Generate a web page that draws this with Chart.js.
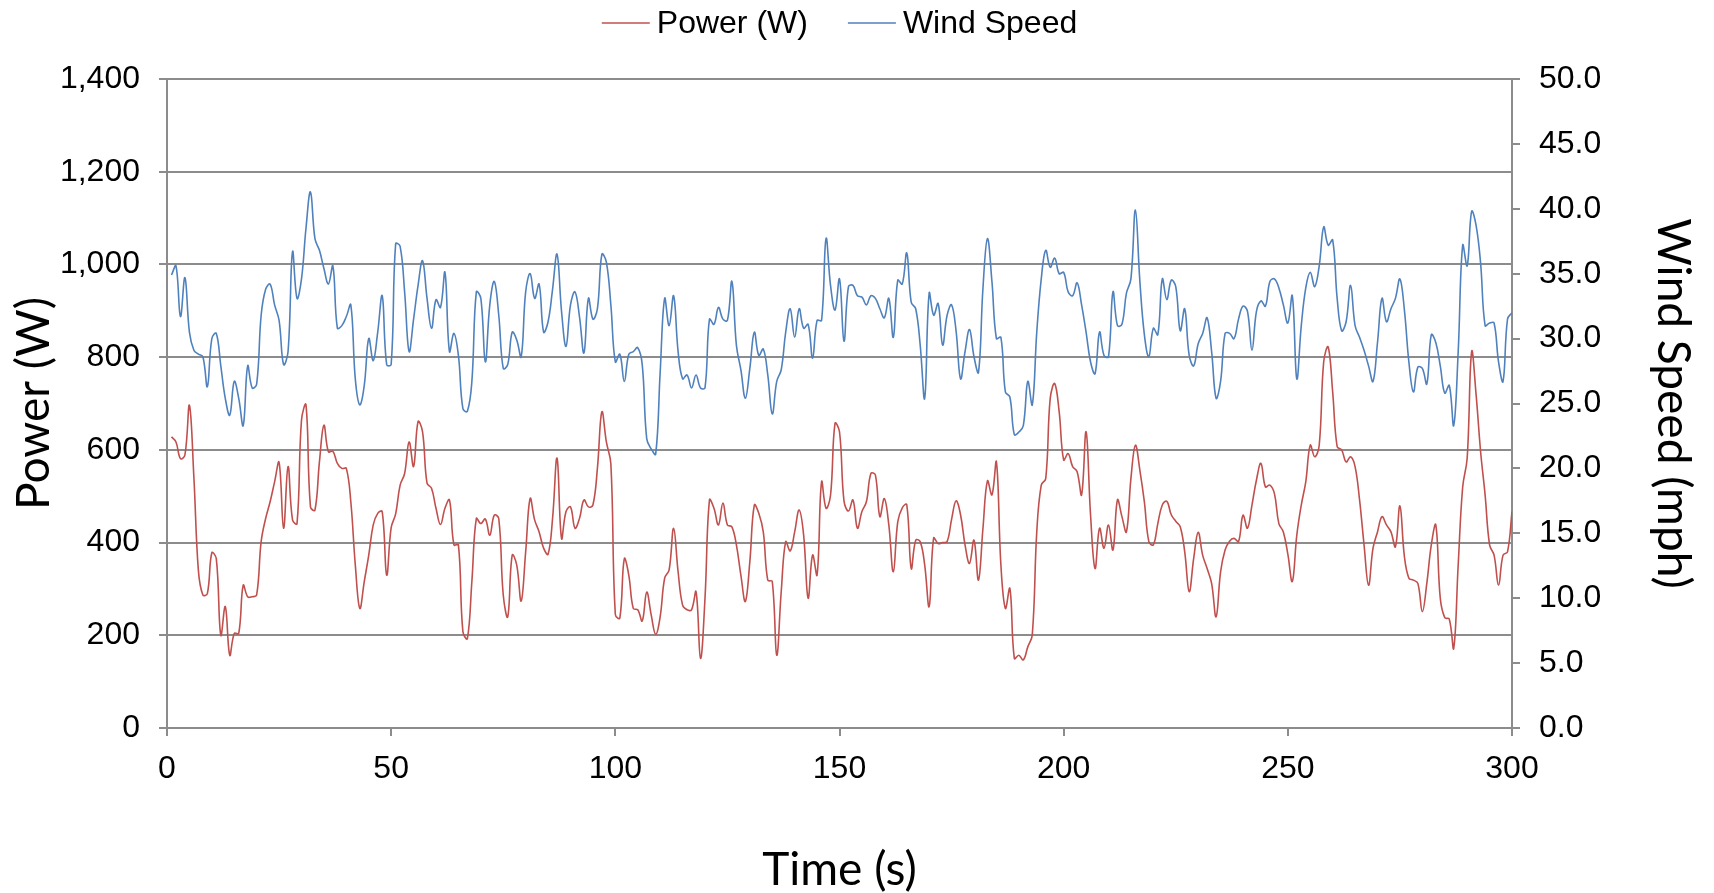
<!DOCTYPE html>
<html>
<head>
<meta charset="utf-8">
<title>Power and Wind Speed</title>
<script src="https://cdn.jsdelivr.net/npm/chart.js@4.4.1/dist/chart.umd.min.js"></script>
<style>
  html, body { margin: 0; padding: 0; background: #ffffff; }
  #chart { display: block; }
</style>
</head>
<body>
<canvas id="chart" width="1714" height="893"></canvas>
<script>
// Axis ticks
const timeTicks = [0, 50, 100, 150, 200, 250, 300];
const powerTicks = [0, 200, 400, 600, 800, 1000, 1200, 1400];
const windTicks = [0, 5, 10, 15, 20, 25, 30, 35, 40, 45, 50];

// One reading per second, t = 1 ... 300 s
const powerW = [
  628, 617, 581, 589, 696, 540, 340, 287, 290, 378,
  365, 200, 262, 157, 204, 204, 308, 283, 283, 287,
  402, 452, 488, 531, 573, 431, 564, 449, 441, 664,
  697, 477, 470, 574, 653, 596, 597, 571, 560, 560,
  488, 352, 258, 316, 373, 438, 463, 467, 330, 432,
  462, 524, 549, 617, 564, 661, 639, 528, 517, 474,
  439, 474, 492, 395, 395, 208, 193, 316, 452, 441,
  451, 416, 459, 452, 287, 240, 373, 352, 274, 380,
  495, 449, 423, 388, 375, 452, 582, 409, 467, 477,
  431, 452, 492, 477, 481, 560, 682, 617, 570, 245,
  237, 365, 330, 258, 255, 231, 293, 244, 202, 240,
  323, 341, 431, 337, 265, 255, 255, 294, 150, 280,
  492, 474, 438, 485, 438, 434, 395, 330, 273, 359,
  481, 463, 423, 319, 316, 157, 294, 402, 382, 423,
  470, 416, 280, 373, 330, 531, 474, 502, 657, 639,
  490, 468, 492, 431, 467, 488, 549, 546, 456, 495,
  438, 337, 445, 475, 482, 344, 405, 402, 352, 262,
  410, 398, 400, 402, 450, 490, 460, 395, 355, 405,
  319, 431, 533, 503, 574, 352, 258, 301, 150, 157,
  147, 175, 201, 423, 524, 538, 711, 743, 682, 578,
  592, 564, 553, 503, 639, 459, 344, 431, 388, 438,
  384, 492, 456, 423, 538, 610, 556, 488, 402, 395,
  441, 481, 489, 460, 446, 434, 380, 294, 366, 422,
  373, 344, 312, 240, 337, 384, 403, 409, 402, 459,
  431, 481, 535, 571, 520, 524, 506, 441, 423, 375,
  316, 416, 481, 531, 610, 585, 610, 790, 822, 725,
  607, 600, 574, 585, 564, 492, 395, 308, 388, 423,
  456, 438, 423, 391, 479, 370, 323, 319, 312, 251,
  312, 395, 438, 280, 238, 235, 172, 352, 520, 582,
  812, 718, 596, 503, 395, 373, 308, 373, 380, 467
];

const windMph = [
  34.9, 35.6, 31.7, 34.7, 30.5, 29.1, 28.8, 28.6, 26.3, 30.0,
  30.4, 27.9, 25.4, 24.1, 26.7, 25.4, 23.3, 27.9, 26.2, 26.5,
  31.8, 33.8, 34.2, 32.6, 31.4, 28.0, 29.0, 36.7, 33.1, 34.6,
  38.5, 41.3, 37.7, 36.8, 35.4, 34.2, 35.6, 30.8, 31.0, 31.7,
  32.6, 26.9, 24.9, 26.4, 30.0, 28.3, 30.5, 33.3, 28.0, 28.0,
  37.3, 37.1, 33.6, 29.0, 31.5, 34.1, 36.0, 33.1, 30.8, 33.0,
  32.4, 35.1, 29.0, 30.4, 28.7, 24.6, 24.4, 26.7, 33.6, 33.1,
  28.2, 32.6, 34.4, 31.8, 27.7, 28.0, 30.5, 29.9, 28.6, 33.6,
  35.0, 33.1, 34.2, 30.5, 31.3, 33.8, 36.5, 32.1, 29.4, 32.6,
  33.6, 31.7, 28.9, 33.1, 31.5, 32.3, 36.5, 35.9, 32.6, 28.2,
  28.8, 26.7, 28.8, 29.0, 29.3, 28.0, 22.3, 21.5, 21.1, 27.4,
  33.1, 31.0, 33.3, 29.0, 26.9, 27.2, 26.2, 27.2, 26.2, 26.2,
  31.5, 31.1, 32.4, 31.5, 31.4, 34.4, 29.5, 27.6, 25.4, 27.7,
  30.5, 28.7, 29.2, 27.2, 24.2, 26.7, 27.6, 30.5, 32.3, 30.1,
  32.3, 30.8, 31.1, 28.5, 31.4, 31.4, 37.7, 34.1, 32.2, 34.6,
  29.8, 34.0, 34.1, 33.3, 33.2, 32.6, 33.3, 33.1, 32.3, 31.6,
  33.1, 30.1, 34.5, 34.2, 36.6, 32.8, 32.3, 29.5, 25.4, 33.5,
  31.8, 32.7, 29.5, 31.8, 32.6, 30.6, 26.9, 29.0, 30.7, 28.6,
  27.4, 33.9, 37.7, 34.4, 30.0, 30.1, 25.9, 25.5, 22.6, 22.8,
  23.3, 26.7, 24.9, 30.5, 34.6, 36.8, 35.5, 36.2, 35.0, 35.1,
  33.6, 33.3, 34.3, 32.6, 30.5, 28.2, 27.3, 30.5, 28.7, 28.6,
  33.6, 31.0, 31.1, 33.5, 34.6, 39.9, 34.4, 30.3, 28.6, 30.8,
  30.3, 34.6, 33.0, 34.5, 34.0, 30.6, 32.3, 28.7, 27.9, 29.6,
  30.4, 31.6, 29.0, 25.4, 26.7, 30.4, 30.4, 30.0, 31.5, 32.5,
  32.1, 29.1, 32.1, 32.9, 32.5, 34.4, 34.6, 33.9, 32.6, 31.2,
  33.3, 26.9, 31.0, 33.9, 35.1, 34.0, 35.6, 38.6, 37.2, 37.6,
  33.1, 30.6, 31.3, 34.1, 31.0, 30.1, 29.1, 27.9, 26.7, 29.7,
  33.1, 31.3, 32.3, 33.1, 34.6, 32.2, 28.2, 25.9, 27.8, 27.7,
  26.5, 30.3, 29.7, 27.9, 25.8, 26.4, 23.3, 29.0, 37.2, 35.6,
  39.8, 38.7, 35.8, 31.0, 31.2, 31.2, 28.2, 26.7, 31.5, 32.0
];

// Styling
const GRID = '#8c8c8c';
const POWER_RED = '#c0504d';
const WIND_BLUE = '#4f81bd';
const tickFont = { family: '"Liberation Sans", Arial, sans-serif', size: 32 };
const titleFont = { family: 'Lato, "Open Sans", sans-serif', size: 46, lineHeight: 1 };
const legendFont = '32px "Liberation Sans", Arial, sans-serif';

function toPoints(values) {
  // sample i was taken at second i + 1
  return values.map((v, i) => ({ x: i + 1, y: v }));
}

function fixedTicks(list) {
  return scale => { scale.ticks = list.map(v => ({ value: v })); };
}

// Legend: short line sample followed by the series name, centred over the plot
const lineLegend = {
  id: 'lineLegend',
  afterDraw(chart) {
    const ctx = chart.ctx;
    const sets = chart.data.datasets;
    const sample = 48, gap = 7, spacing = 40, y = 23;
    ctx.save();
    ctx.font = legendFont;
    ctx.textBaseline = 'middle';
    const widths = sets.map(ds => ctx.measureText(ds.label).width);
    const total = widths.reduce((s, w) => s + sample + gap + w, 0) + spacing * (sets.length - 1);
    let x = (chart.chartArea.left + chart.chartArea.right) / 2 - total / 2;
    sets.forEach((ds, i) => {
      ctx.strokeStyle = ds.borderColor;
      ctx.lineWidth = 1.5;
      ctx.beginPath();
      ctx.moveTo(x, y);
      ctx.lineTo(x + sample, y);
      ctx.stroke();
      ctx.fillStyle = '#000';
      ctx.fillText(ds.label, x + sample + gap, y + 1);
      x += sample + gap + widths[i] + spacing;
    });
    ctx.restore();
  }
};

new Chart(document.getElementById('chart'), {
  type: 'line',
  data: {
    datasets: [
      {
        label: 'Power (W)',
        data: toPoints(powerW),
        yAxisID: 'y',
        borderColor: POWER_RED,
        borderWidth: 1.6,
        pointRadius: 0,
        tension: 0.4,
        fill: false
      },
      {
        label: 'Wind Speed',
        data: toPoints(windMph),
        yAxisID: 'y1',
        borderColor: WIND_BLUE,
        borderWidth: 1.6,
        pointRadius: 0,
        tension: 0.4,
        fill: false
      }
    ]
  },
  options: {
    responsive: false,
    animation: false,
    devicePixelRatio: 1,
    layout: { padding: { top: 79, left: 0, right: 0, bottom: 0 } },
    plugins: {
      legend: { display: false },
      tooltip: { enabled: false }
    },
    scales: {
      x: {
        type: 'linear',
        min: 0,
        max: 300,
        afterBuildTicks: fixedTicks(timeTicks),
        afterFit: s => { s.height = 165; },
        grid: { drawOnChartArea: false, drawTicks: true, tickLength: 8, color: GRID, lineWidth: 2 },
        border: { color: GRID, width: 2 },
        ticks: { font: tickFont, color: '#000', padding: 14, maxRotation: 0 },
        title: { display: true, text: 'Time (s)', font: titleFont, color: '#000', padding: { top: 0, bottom: 0 } }
      },
      y: {
        position: 'left',
        min: 0,
        max: 1400,
        afterBuildTicks: fixedTicks(powerTicks),
        afterFit: s => { s.width = 167; },
        grid: { color: GRID, lineWidth: 2, tickLength: 8 },
        border: { color: GRID, width: 2 },
        ticks: {
          font: tickFont,
          color: '#000',
          padding: 19,
          callback: v => v.toLocaleString('en-US')
        },
        title: { display: true, text: 'Power (W)', font: titleFont, color: '#000', padding: { top: 11, bottom: 0 } }
      },
      y1: {
        position: 'right',
        min: 0,
        max: 50,
        afterBuildTicks: fixedTicks(windTicks),
        afterFit: s => { s.width = 202; },
        grid: { drawOnChartArea: false, color: GRID, lineWidth: 2, tickLength: 8 },
        border: { color: GRID, width: 2 },
        ticks: {
          font: tickFont,
          color: '#000',
          padding: 19,
          callback: v => v.toFixed(1)
        },
        title: { display: true, text: 'Wind Speed (mph)', font: titleFont, color: '#000', padding: { top: 18, bottom: 0 } }
      }
    }
  },
  plugins: [lineLegend]
});
</script>
</body>
</html>
